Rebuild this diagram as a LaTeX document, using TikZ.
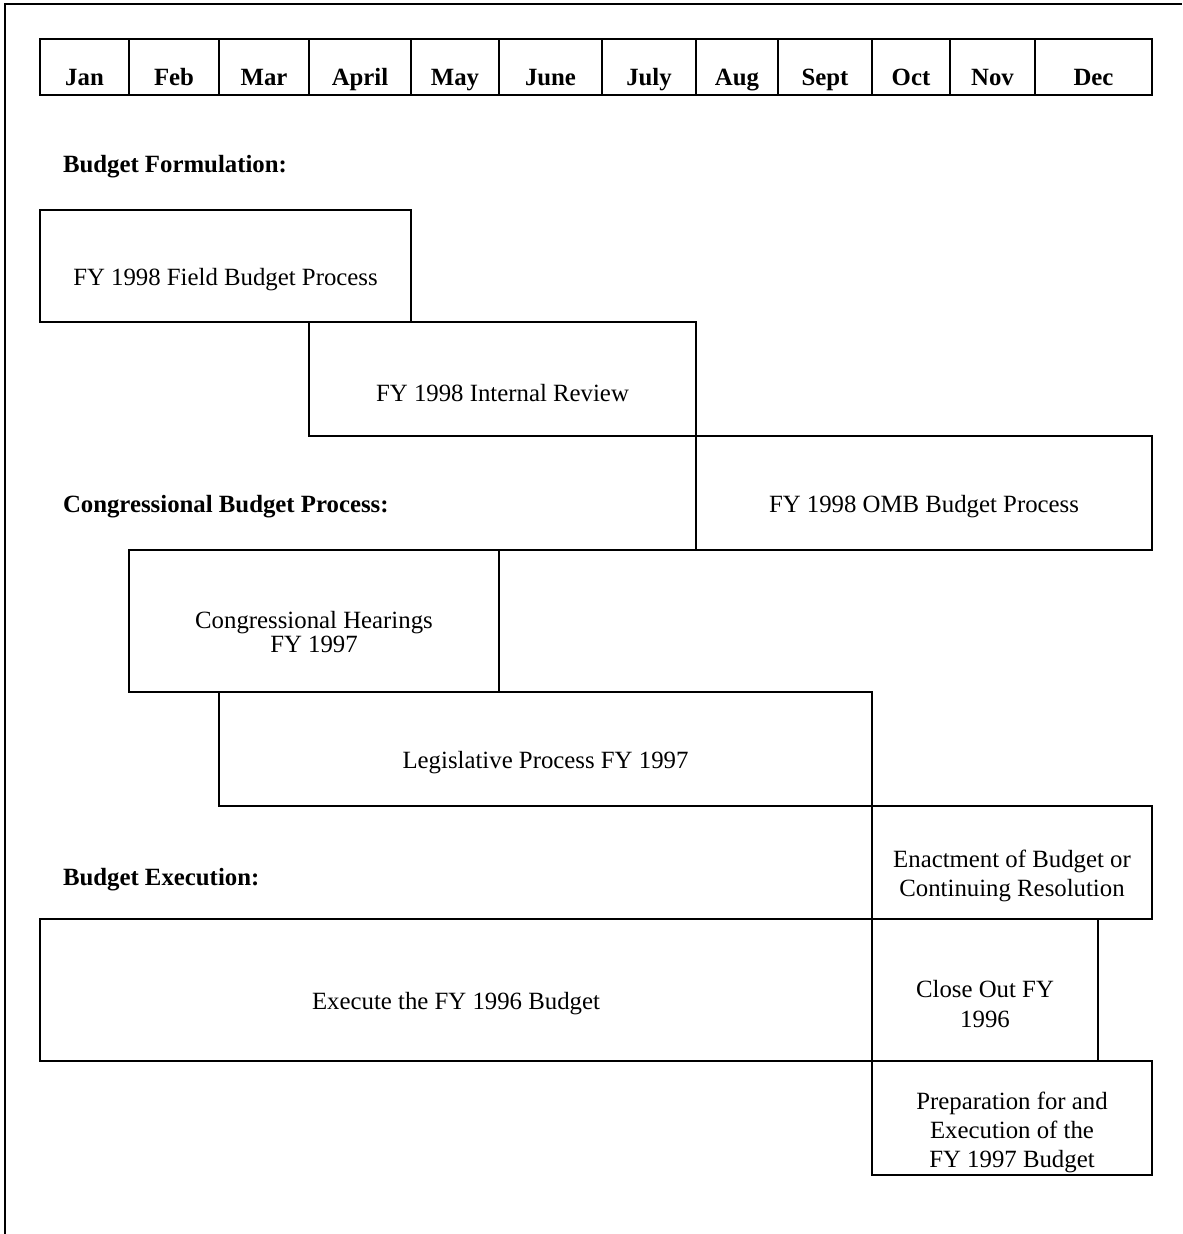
\documentclass[tikz,border=0pt]{standalone}
\usepackage{fontspec}
\setmainfont{Liberation Serif}
\tikzset{
  gc/.style={x=0.5pt,y=-0.5pt,line width=1pt,font=\fontsize{12.4}{14.3}\selectfont},
  mon/.style={font=\fontsize{12.4}{14.3}\selectfont\bfseries,anchor=base},
  sect/.style={font=\fontsize{12.4}{14.3}\selectfont\bfseries,anchor=west,inner sep=0pt},
  bar/.style={draw,rectangle,inner sep=0pt,outer sep=0pt},
  task/.style={align=center,inner sep=0pt}
}
\begin{document}
\begin{tikzpicture}[gc]
  \useasboundingbox (0,0) rectangle (1182,1234);
  \draw (5,1234)--(5,4)--(1182,4);
  % month header
  \foreach \a/\b/\m in {40/129/Jan,129/219/Feb,219/309/Mar,309/411/April,411/499/May,499/602/June,602/696/July,696/778/Aug,778/872/Sept,872/950/Oct,950/1035/Nov,1035/1152/Dec}{
    \draw (\a,39) rectangle (\b,95);
    \node[mon] (m-\m) at ({(\a+\b)/2},86) {\m};}
  % section titles
  \node[sect] (formulation) at (62,167) {Budget Formulation:};
  \node[sect] (congress) at (62,507) {Congressional Budget Process:};
  \node[sect] (execution) at (62,880) {Budget Execution:};
  % bars: left/right/top/bottom/text y/line skip/name/text
  \foreach \a/\b/\t/\c/\ty/\ls/\nm/\txt in {
    40/411/210/322/280/14.3/field/{FY 1998 Field Budget Process},
    309/696/322/436/393/14.3/review/{FY 1998 Internal Review},
    696/1152/436/550/507/14.3/omb/{FY 1998 OMB Budget Process},
    129/499/550/692/632/11.7/hearings/{Congressional Hearings\\FY 1997},
    219/872/692/806/763/14.3/legis/{Legislative Process FY 1997},
    872/1152/806/919/876/14.8/enact/{Enactment of Budget or\\Continuing Resolution},
    40/872/919/1061/1004/14.3/exec96/{Execute the FY 1996 Budget},
    872/1098/919/1061/1004/14.8/close96/{Close Out FY\\1996},
    872/1152/1061/1175/1132/14.5/prep97/{Preparation for and\\Execution of the\\FY 1997 Budget}}{
    \node[bar,minimum width={(\b-\a)*0.5pt},minimum height={(\c-\t)*0.5pt}] (\nm) at ({(\a+\b)/2},{(\t+\c)/2}) {};
    \node[task,font=\fontsize{12.4}{\ls}\selectfont] (\nm-t) at ({(\a+\b)/2},\ty) {\txt};}
  \draw (hearings.north east)--(omb.south west);
\end{tikzpicture}
\end{document}
